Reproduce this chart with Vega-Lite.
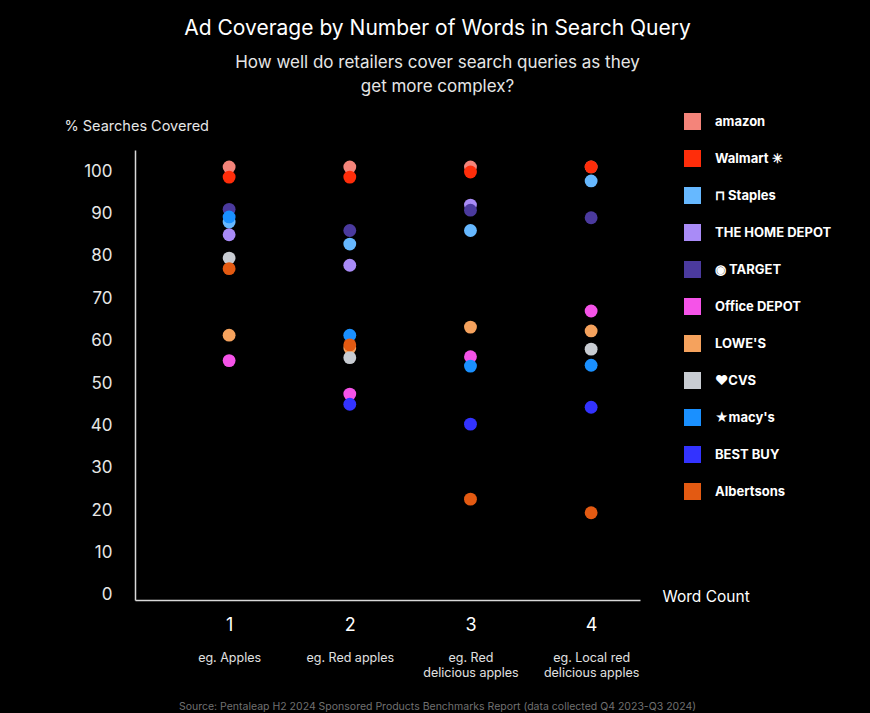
{
  "$schema": "https://vega.github.io/schema/vega-lite/v6.json",
  "width": 505,
  "height": 450,
  "autosize": {"type": "none"},
  "padding": {"left": 135, "top": 150, "right": 230, "bottom": 113},
  "background": "#000000",
  "config": {"view": {"stroke": null}, "font": "Inter"},
  "title": {
    "text": "Ad Coverage by Number of Words in Search Query",
    "subtitle": ["How well do retailers cover search queries as they", "get more complex?"],
    "fontSize": 21,
    "fontWeight": "normal",
    "color": "#ffffff",
    "subtitleFontSize": 17,
    "subtitleColor": "#e6e6e6",
    "subtitleLineHeight": 24,
    "subtitlePadding": 16,
    "anchor": "middle",
    "frame": "group",
    "dx": 50,
    "offset": 18
  },
  "data": {
    "values": [
      {"retailer": "Amazon", "words": 1, "pct": 101},
      {"retailer": "Amazon", "words": 2, "pct": 101},
      {"retailer": "Amazon", "words": 3, "pct": 101},
      {"retailer": "Amazon", "words": 4, "pct": 101},
      {"retailer": "Walmart", "words": 1, "pct": 98.6},
      {"retailer": "Walmart", "words": 2, "pct": 98.6},
      {"retailer": "Walmart", "words": 3, "pct": 99.8},
      {"retailer": "Walmart", "words": 4, "pct": 101},
      {"retailer": "Staples", "words": 1, "pct": 88},
      {"retailer": "Staples", "words": 2, "pct": 82.8},
      {"retailer": "Staples", "words": 3, "pct": 86},
      {"retailer": "Staples", "words": 4, "pct": 97.7},
      {"retailer": "Home Depot", "words": 1, "pct": 85},
      {"retailer": "Home Depot", "words": 2, "pct": 77.8},
      {"retailer": "Home Depot", "words": 3, "pct": 92},
      {"retailer": "Target", "words": 1, "pct": 91},
      {"retailer": "Target", "words": 2, "pct": 86},
      {"retailer": "Target", "words": 3, "pct": 90.8},
      {"retailer": "Target", "words": 4, "pct": 89},
      {"retailer": "Office Depot", "words": 1, "pct": 55.3},
      {"retailer": "Office Depot", "words": 2, "pct": 47.4},
      {"retailer": "Office Depot", "words": 3, "pct": 56.2},
      {"retailer": "Office Depot", "words": 4, "pct": 67},
      {"retailer": "Lowe's", "words": 1, "pct": 61.3},
      {"retailer": "Lowe's", "words": 2, "pct": 58.3},
      {"retailer": "Lowe's", "words": 3, "pct": 63.2},
      {"retailer": "Lowe's", "words": 4, "pct": 62.3},
      {"retailer": "CVS", "words": 1, "pct": 79.5},
      {"retailer": "CVS", "words": 2, "pct": 56},
      {"retailer": "CVS", "words": 4, "pct": 58},
      {"retailer": "Macy's", "words": 1, "pct": 89.2},
      {"retailer": "Macy's", "words": 2, "pct": 61.3},
      {"retailer": "Macy's", "words": 3, "pct": 54},
      {"retailer": "Macy's", "words": 4, "pct": 54.2},
      {"retailer": "Best Buy", "words": 2, "pct": 45},
      {"retailer": "Best Buy", "words": 3, "pct": 40.3},
      {"retailer": "Best Buy", "words": 4, "pct": 44.3},
      {"retailer": "Albertsons", "words": 1, "pct": 77},
      {"retailer": "Albertsons", "words": 2, "pct": 59},
      {"retailer": "Albertsons", "words": 3, "pct": 22.6},
      {"retailer": "Albertsons", "words": 4, "pct": 19.4}
    ]
  },
  "layer": [
    {
      "mark": {"type": "circle", "size": 165, "opacity": 1},
      "encoding": {
        "x": {
          "field": "words",
          "type": "quantitative",
          "scale": {"domain": [0.22, 4.405], "nice": false, "zero": false},
          "axis": {
            "orient": "bottom",
            "values": [1, 2, 3, 4],
            "format": "d",
            "labelFontSize": 18,
            "labelColor": "#ffffff",
            "labelPadding": 16,
            "ticks": false,
            "grid": false,
            "domainColor": "#d9d9d9",
            "domainWidth": 1.5,
            "title": "Word Count",
            "titleX": 527,
            "titleY": -4,
            "titleAlign": "left",
            "titleBaseline": "middle",
            "titleFontSize": 15.5,
            "titleFontWeight": "normal",
            "titleColor": "#ffffff"
          }
        },
        "y": {
          "field": "pct",
          "type": "quantitative",
          "scale": {"domain": [-1.2, 105], "nice": false, "zero": false},
          "axis": {
            "values": [0, 10, 20, 30, 40, 50, 60, 70, 80, 90, 100],
            "labelFontSize": 17,
            "labelColor": "#e6e6e6",
            "labelPadding": 23,
            "ticks": false,
            "grid": false,
            "domainColor": "#d9d9d9",
            "domainWidth": 1.5,
            "title": "% Searches Covered",
            "titleAngle": 0,
            "titleX": -71,
            "titleY": -24,
            "titleAlign": "left",
            "titleBaseline": "middle",
            "titleFontSize": 14.5,
            "titleFontWeight": "normal",
            "titleColor": "#e6e6e6"
          }
        },
        "color": {
          "field": "retailer",
          "type": "nominal",
          "scale": {
            "domain": ["Amazon", "Walmart", "Staples", "Home Depot", "Target", "Office Depot", "Lowe's", "CVS", "Macy's", "Best Buy", "Albertsons"],
            "range": ["#f4847a", "#ff2d0a", "#66b8ff", "#a98bf7", "#4b3a9e", "#f553e8", "#f5a25d", "#c8ccd2", "#1a90ff", "#3333ff", "#e35a12"]
          },
          "legend": {
            "orient": "none",
            "legendX": 549,
            "legendY": -37,
            "title": null,
            "padding": 0,
            "symbolType": "square",
            "symbolSize": 289,
            "symbolStrokeWidth": 0,
            "symbolOpacity": 1,
            "labelColor": "#ffffff",
            "labelFontSize": 13,
            "labelFontWeight": "bold",
            "labelOffset": 14,
            "rowPadding": 20,
            "labelExpr": "datum.label == 'Amazon' ? 'amazon' : datum.label == 'Walmart' ? 'Walmart ✳' : datum.label == 'Staples' ? '⊓ Staples' : datum.label == 'Home Depot' ? 'THE HOME DEPOT' : datum.label == 'Target' ? '◉ TARGET' : datum.label == 'Office Depot' ? 'Office DEPOT' : datum.label == 'Lowe\\'s' ? 'LOWE\\'S' : datum.label == 'CVS' ? '♥CVS' : datum.label == 'Macy\\'s' ? '★macy\\'s' : datum.label == 'Best Buy' ? 'BEST BUY' : datum.label"
          }
        }
      }
    },
    {
      "mark": {"type": "circle", "opacity": 0},
      "encoding": {
        "x": {
          "field": "words",
          "type": "quantitative",
          "axis": {
            "orient": "bottom",
            "values": [1, 2, 3, 4],
            "labelExpr": "datum.value == 1 ? 'eg. Apples' : datum.value == 2 ? 'eg. Red apples' : datum.value == 3 ? ['eg. Red', 'delicious apples'] : ['eg. Local red', 'delicious apples']",
            "labelFontSize": 12.5,
            "labelColor": "#e0e0e0",
            "labelPadding": 51,
            "labelLineHeight": 15,
            "domain": false,
            "ticks": false,
            "grid": false,
            "title": "Source: Pentaleap H2 2024 Sponsored Products Benchmarks Report (data collected Q4 2023-Q3 2024)",
            "titleFontSize": 10.5,
            "titleFontWeight": "normal",
            "titleColor": "#707070",
            "titleX": 302,
            "titleY": 106,
            "titleAlign": "center",
            "titleBaseline": "middle"
          }
        }
      }
    }
  ],
  "resolve": {"axis": {"x": "independent"}}
}
